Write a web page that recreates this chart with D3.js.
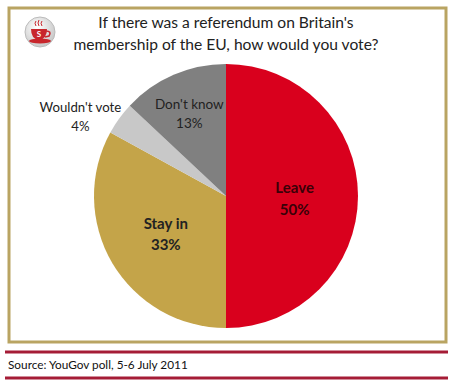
<!DOCTYPE html>
<html>
<head>
<meta charset="utf-8">
<script src="https://cdn.jsdelivr.net/npm/d3@7"></script>
<style>
  body { margin: 0; background: #fff; }
  text { font-family: Lato, "Open Sans", sans-serif; }
</style>
</head>
<body>
<script>
var width = 454, height = 386

// data
var categories = ["Leave", "Stay in", "Wouldn't vote", "Don't know"]
var values = [50, 33, 4, 13]
var colors = ["#d9001d", "#c4a449", "#c8c8c8", "#808080"]
var labelRadius = [0.52, 0.53, 1.0, 0.7]
var labelOutside = [false, false, true, false]
var boldLabel = [true, true, false, false]
var labelSize = [15, 15, 13.2, 13.5]

var svg = d3.select("body").append("svg")
    .attr("width", width).attr("height", height)

// frame
svg.append("rect")
    .attr("x", 9).attr("y", 8).attr("width", 437).attr("height", 334)
    .attr("fill", "none").attr("stroke", "#b9a462").attr("stroke-width", 3)

// title
svg.append("text").attr("x", 226).attr("y", 28)
    .attr("text-anchor", "middle").attr("font-size", 15.6).attr("fill", "#222")
    .text("If there was a referendum on Britain's")
svg.append("text").attr("x", 226).attr("y", 50)
    .attr("text-anchor", "middle").attr("font-size", 15.6).attr("fill", "#222")
    .text("membership of the EU, how would you vote?")

// logo
var defs = svg.append("defs")
var grad = defs.append("radialGradient").attr("id", "logoGrad")
    .attr("cx", "40%").attr("cy", "35%").attr("r", "65%")
grad.append("stop").attr("offset", "0%").attr("stop-color", "#ffffff")
grad.append("stop").attr("offset", "100%").attr("stop-color", "#c9c9c9")
var logo = svg.append("g").attr("transform", "translate(40,32)")
logo.append("circle").attr("r", 15).attr("fill", "url(#logoGrad)").attr("stroke", "#bbb")
logo.append("path").attr("d", "M-9,-3 L7,-3 Q7,7 -1,8 Q-9,7 -9,-3 Z").attr("fill", "#c8262c")
logo.append("path").attr("d", "M6,-1 Q12,-1 9,4 L5,5").attr("fill", "none")
    .attr("stroke", "#c8262c").attr("stroke-width", 1.6)
logo.append("ellipse").attr("cx", 0).attr("cy", 9).attr("rx", 11).attr("ry", 2.5).attr("fill", "#c8262c")
logo.append("path").attr("d", "M-4,-6 q-2,-3 0,-5 M-1,-6 q-2,-3 0,-6 M2,-6 q-2,-3 0,-5")
    .attr("fill", "none").attr("stroke", "#c8262c").attr("stroke-width", 1)
logo.append("text").attr("x", -1).attr("y", 5).attr("text-anchor", "middle")
    .attr("font-size", 8).attr("font-weight", "bold").attr("fill", "#fff").text("S")

// pie
var cx = 226, cy = 196, r = 132
var pie = d3.pie().sort(null).value(function(d) { return d })
var arcs = pie(values)
var arc = d3.arc().innerRadius(0).outerRadius(r)

var g = svg.append("g").attr("transform", "translate(" + cx + "," + cy + ")")
g.selectAll("path").data(arcs).enter().append("path")
    .attr("d", arc)
    .attr("fill", function(d, i) { return colors[i] })

// labels
g.selectAll(".lbl").data(arcs).enter().append("text")
    .attr("class", "lbl")
    .attr("text-anchor", "middle")
    .attr("font-size", function(d, i) { return labelSize[i] })
    .attr("font-weight", function(d, i) { return boldLabel[i] ? "bold" : "normal" })
    .attr("fill", function(d, i) { return i == 0 ? "#3a0008" : "#222" })
    .each(function(d, i) {
        var t = d3.select(this)
        t.append("tspan").attr("x", 0).attr("dy", "-0.2em").text(categories[i])
        t.append("tspan").attr("x", 0).attr("dy", "1.45em").text(values[i] + "%")
        var lr = r * labelRadius[i]
        var c = d3.arc().innerRadius(lr).outerRadius(lr).centroid(d)
        if (labelOutside[i]) {
            // right edge of the label sits against the slice edge
            var w = this.getBBox().width
            c[0] -= w / 2 - 2
            c[1] -= 4
        }
        t.attr("transform", "translate(" + c[0] + "," + c[1] + ")")
    })

// source
svg.append("line").attr("x1", 5).attr("x2", 448).attr("y1", 352).attr("y2", 352)
    .attr("stroke", "#a51c36").attr("stroke-width", 3)
svg.append("line").attr("x1", 5).attr("x2", 448).attr("y1", 378).attr("y2", 378)
    .attr("stroke", "#a51c36").attr("stroke-width", 3)
svg.append("text").attr("x", 8).attr("y", 369)
    .attr("font-size", 11.8).attr("fill", "#111")
    .text("Source: YouGov poll, 5-6 July 2011")
</script>
</body>
</html>
